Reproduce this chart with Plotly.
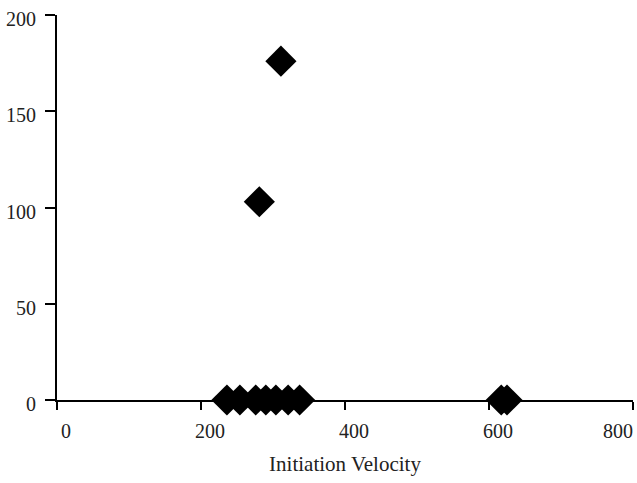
import plotly.graph_objects as go

# Data
initiation_velocity = [236, 254, 276, 290, 304, 321, 337, 281, 311, 617, 625]
response = [0, 0, 0, 0, 0, 0, 0, 103, 176, 0, 0]

x_ticks = [0, 200, 400, 600, 800]
x_tick_text = ["0", "200", "400", "600", ""]
y_ticks = [0, 50, 100, 150, 200]
x_title = "Initiation Velocity"
last_x_label = "800"

fig = go.Figure(
    go.Scatter(
        x=initiation_velocity,
        y=response,
        mode="markers",
        marker=dict(symbol="diamond", size=24, color="black", line=dict(width=0)),
        cliponaxis=False,
    )
)

family = "Liberation Serif, Times New Roman, serif"
font = dict(family=family, size=20, color="#222")

fig.update_layout(
    width=637,
    height=483,
    margin=dict(l=57, r=4, t=15, b=83),
    plot_bgcolor="white",
    paper_bgcolor="white",
    showlegend=False,
    font=font,
)
fig.update_xaxes(
    range=[0, 800],
    tickvals=x_ticks,
    ticktext=x_tick_text,
    automargin=False,
    showgrid=False,
    zeroline=False,
    showline=True,
    linecolor="black",
    linewidth=2,
    ticks="outside",
    ticklen=8,
    tickwidth=2,
    tickcolor="black",
    ticklabelstandoff=4,
    ticklabelshift=9,
    ticklabeloverflow="allow",
    title=dict(text=x_title, font=dict(family=family, size=21, color="#222"), standoff=15),
)
fig.update_yaxes(
    range=[0, 200],
    tickvals=y_ticks,
    automargin=False,
    showgrid=False,
    zeroline=False,
    showline=True,
    linecolor="black",
    linewidth=2,
    ticks="outside",
    ticklen=10,
    tickwidth=2,
    tickcolor="black",
    ticklabelstandoff=5,
    ticklabelshift=4,
)
fig.add_annotation(
    text=last_x_label,
    x=1, xref="paper", xanchor="right", xshift=2,
    y=0, yref="y", yanchor="middle", yshift=-31,
    showarrow=False,
    font=font,
)

fig.write_html(
    "out.html",
    config={"displayModeBar": False},
    post_script="document.body.style.margin='0';document.body.style.overflow='hidden';",
)
